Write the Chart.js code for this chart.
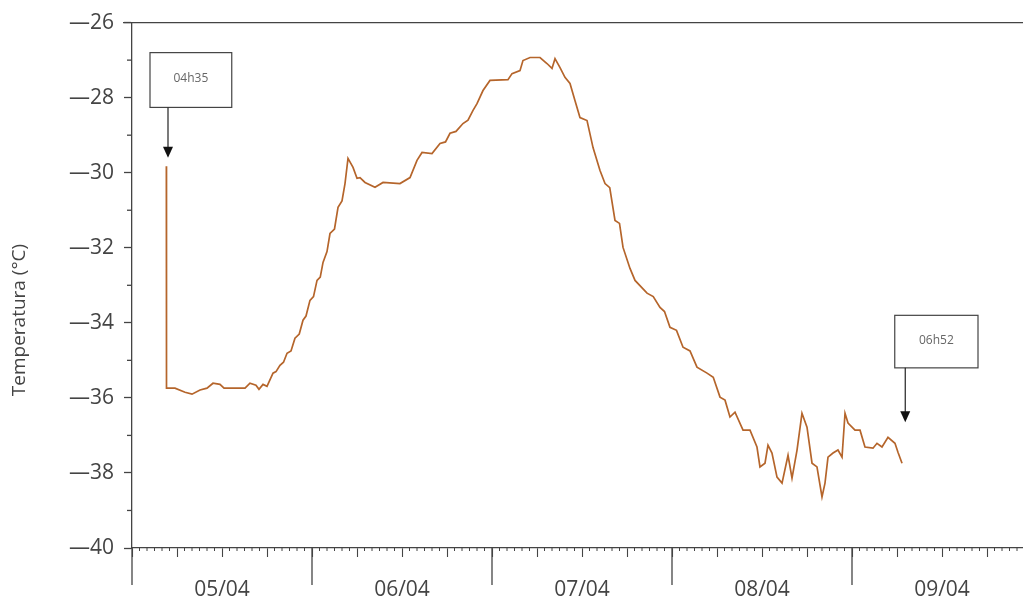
<!DOCTYPE html>
<html lang="pt">
<head>
<meta charset="UTF-8">
<title>Temperatura</title>
<script src="https://cdn.jsdelivr.net/npm/chart.js"></script>
<style>
  body { margin: 0; background: #fff; }
</style>
</head>
<body>
<canvas id="myChart" width="1023" height="603"></canvas>
<script>
// horas contadas desde 05/04 00h00
const hours = [4.58, 4.6, 5.73, 7.07, 8.0, 9.07, 10.0, 10.8, 11.73, 12.27, 15.07, 15.73, 16.53, 16.93, 17.47, 18.0,
  18.8, 19.2, 19.73, 20.2, 20.67, 21.2, 21.73, 22.3, 22.8, 23.2, 23.73, 24.2, 24.67, 25.1, 25.47, 26.0, 26.4, 27.0,
  27.47, 28.0, 28.4, 28.8, 29.47, 30.0, 30.4, 31.07, 32.4,
  33.47, 35.73, 37.07, 38.0, 38.67, 40.0, 41.07, 41.8, 42.4, 43.2, 44.13, 44.8, 45.47, 46.0, 46.8, 47.73, 50.13, 50.67,
  51.73, 52.13, 53.07, 54.4, 55.33, 56.0, 56.4, 57.07, 57.73, 58.4, 59.07, 59.73, 60.67, 61.47, 62.4, 63.07, 63.7,
  64.4, 65.0, 65.47, 66.4, 67.07, 68.67, 69.5, 70.4, 71.0, 71.73, 72.6, 73.47, 74.4, 75.33, 76.67, 77.5, 78.4, 79.07,
  79.73, 80.4, 81.47, 82.4, 83.33, 83.73, 84.4, 84.8, 85.33, 86.0, 86.67, 87.47, 88.0, 88.67, 89.33, 90.0, 90.67,
  91.33, 92.0, 92.4, 92.8, 93.47, 94.13, 94.67, 95.07, 95.47, 96.4, 97.07, 97.73, 98.8, 99.33, 100.0, 100.8, 101.73,
  102.13, 102.67];
const temps = [-29.83, -35.74, -35.74, -35.85, -35.9, -35.79, -35.74, -35.61, -35.64, -35.74, -35.74, -35.61, -35.66,
  -35.77, -35.64, -35.69, -35.34, -35.3, -35.13, -35.05, -34.81, -34.75, -34.41, -34.3, -33.93, -33.82, -33.4, -33.3,
  -32.87, -32.78, -32.39, -32.1, -31.62, -31.5, -30.92, -30.75, -30.29, -29.62, -29.86, -30.15, -30.13, -30.26,
  -30.39, -30.26, -30.29, -30.13, -29.67, -29.46, -29.49, -29.22, -29.18, -28.95, -28.9, -28.69, -28.6, -28.34,
  -28.16, -27.81, -27.54, -27.52, -27.36, -27.28, -27.01, -26.93, -26.93, -27.09, -27.22, -26.96, -27.2, -27.46,
  -27.62, -28.08, -28.53, -28.61, -29.33, -29.94, -30.29, -30.4, -31.27, -31.35, -31.99, -32.55, -32.87, -33.21,
  -33.3, -33.59, -33.7, -34.12, -34.2, -34.65, -34.75, -35.18, -35.34, -35.45, -35.98, -36.06, -36.51, -36.38,
  -36.86, -36.86, -37.31, -37.84, -37.74, -37.26, -37.47, -38.11, -38.27, -37.53, -38.14, -37.39, -36.41, -36.78,
  -37.74, -37.84, -38.64, -38.27, -37.58, -37.47, -37.39, -37.58, -36.41, -36.67, -36.86, -36.86, -37.31, -37.34,
  -37.21, -37.31, -37.05, -37.21, -37.45, -37.74];
const dayLabels = ['05/04', '06/04', '07/04', '08/04', '09/04'];
const yMin = -40, yMax = -26;
const xMax = 118.8;

// caixas de inicio / fim do registo (em unidades dos eixos)
const notes = [
  { text: '04h35', x0: 2.4, x1: 13.3, y0: -26.8, y1: -28.26, arrowX: 4.8, arrowY: -29.6 },
  { text: '06h52', x0: 101.7, x1: 112.8, y0: -33.8, y1: -35.2, arrowX: 103.1, arrowY: -36.65 }
];

const ink = '#444';
Chart.defaults.font.family = '"Open Sans", sans-serif';
Chart.defaults.color = ink;

function seg(ctx, x1, y1, x2, y2) {
  ctx.beginPath(); ctx.moveTo(x1, y1); ctx.lineTo(x2, y2); ctx.stroke();
}

const extras = {
  id: 'extras',
  afterDraw(chart) {
    const { ctx, chartArea: a, scales: { x, y } } = chart;
    ctx.save();
    ctx.strokeStyle = ink;
    ctx.lineWidth = 1.3;
    seg(ctx, a.left - 9, a.top, a.right, a.top);
    // y minor ticks
    for (let v = yMin + 1; v < yMax; v += 2) {
      const py = y.getPixelForValue(v);
      seg(ctx, a.left - 5, py, a.left, py);
    }
    // hourly ticks
    ctx.lineWidth = 1;
    for (let h = 1; h < xMax; h++) {
      if (h % 6 === 0) continue;
      const px = x.getPixelForValue(h);
      seg(ctx, px, a.bottom, px, a.bottom + 3);
    }
    // day separators
    ctx.lineWidth = 1.3;
    for (let h = 0; h < xMax; h += 24) {
      const px = x.getPixelForValue(h);
      seg(ctx, px, a.bottom, px, a.bottom + 37);
    }
    // y title
    ctx.fillStyle = ink;
    ctx.font = '19px "Open Sans", sans-serif';
    ctx.textAlign = 'center';
    ctx.textBaseline = 'middle';
    ctx.save();
    ctx.translate(20, 320);
    ctx.rotate(-Math.PI / 2);
    ctx.fillText('Temperatura (°C)', 0, 0);
    ctx.restore();
    // notes
    notes.forEach(n => {
      const l = x.getPixelForValue(n.x0), r = x.getPixelForValue(n.x1);
      const t = y.getPixelForValue(n.y0), b = y.getPixelForValue(n.y1);
      ctx.lineWidth = 1.2;
      ctx.strokeStyle = '#444';
      ctx.fillStyle = '#fff';
      ctx.fillRect(l, t, r - l, b - t);
      ctx.strokeRect(l, t, r - l, b - t);
      ctx.fillStyle = '#666';
      ctx.font = '12px "Open Sans", sans-serif';
      ctx.fillText(n.text, (l + r) / 2, (t + b) / 2 - 1);
      const ax = x.getPixelForValue(n.arrowX), ay = y.getPixelForValue(n.arrowY);
      ctx.strokeStyle = '#222';
      seg(ctx, ax, b, ax, ay - 8);
      ctx.fillStyle = '#111';
      ctx.beginPath();
      ctx.moveTo(ax - 5, ay - 11); ctx.lineTo(ax + 5, ay - 11); ctx.lineTo(ax, ay); ctx.closePath();
      ctx.fill();
    });
    ctx.restore();
  }
};

new Chart(document.getElementById('myChart'), {
  type: 'line',
  data: {
    datasets: [{
      data: hours.map((h, i) => ({ x: h, y: temps[i] })),
      borderColor: '#b5652b',
      borderWidth: 1.7,
      pointRadius: 0,
      tension: 0
    }]
  },
  options: {
    responsive: false,
    animation: false,
    layout: { padding: { top: 22, left: 0, right: 0, bottom: 0 } },
    plugins: { legend: { display: false }, tooltip: { enabled: false } },
    scales: {
      x: {
        type: 'linear',
        min: 0,
        max: xMax,
        afterBuildTicks: s => {
          const t = [];
          for (let h = 0; h < xMax; h += 6) t.push({ value: h });
          s.ticks = t;
        },
        afterFit: s => { s.height = 55; },
        ticks: {
          autoSkip: false,
          maxRotation: 0,
          padding: 20,
          font: { size: 21 },
          callback: v => (v % 24 === 12 ? dayLabels[Math.floor(v / 24)] : '')
        },
        grid: { drawOnChartArea: false, tickLength: 9, tickColor: ink, tickWidth: 1.1 },
        border: { color: ink, width: 1.3 }
      },
      y: {
        min: yMin,
        max: yMax,
        afterFit: s => { s.width = 132; },
        ticks: {
          stepSize: 2,
          padding: 10,
          font: { size: 21 },
          callback: v => '\u2014' + Math.abs(v)
        },
        grid: { drawOnChartArea: false, tickLength: 8, tickColor: ink, tickWidth: 1.3 },
        border: { color: ink, width: 1.3 }
      }
    }
  },
  plugins: [extras]
});
</script>
</body>
</html>
